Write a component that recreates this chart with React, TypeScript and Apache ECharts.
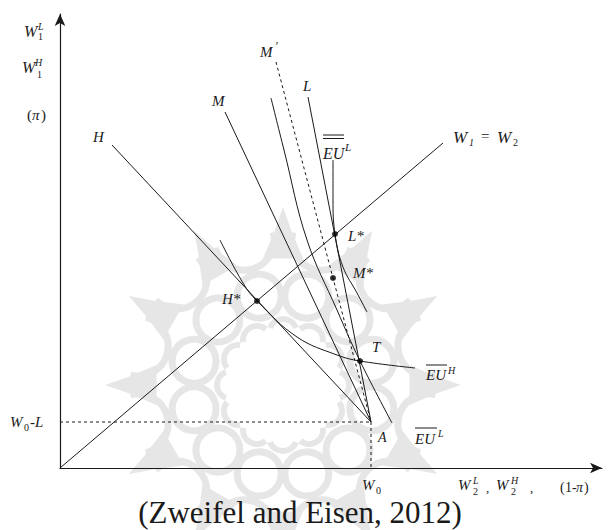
import React, { useEffect, useRef } from "react";
import * as echarts from "echarts";

// Wealth-space coordinates (x: W2, y: W1), in the diagram's own units
const endowmentA = [311, 46]; // (W0, W0-L)
const diagonalLine = [[0, 0], [383, 325]]; // W1 = W2
const hLine = [[52, 323], [311, 46]];
const mLine = [[165, 356], [311, 46]];
const mPrimeLine = [[216, 406], [311, 46]];
const lLine = [[248, 371], [311, 46]];
const euLDoubleCurve = [[273, 308], [273, 268], [275, 234], [283, 201], [297, 175], [307, 156]];
const euLCurve = [[211, 370], [224, 318], [247, 228], [277, 158], [300, 107], [332, 45]];
const euHCurve = [[160, 228], [183, 185], [197, 167], [237, 131], [277, 113], [300, 107], [355, 100]];
const keyPoints = [[197, 167], [275, 234], [273, 190], [300, 107]]; // H*, L*, M*, T
const dashedH = [[0, endowmentA[1]], endowmentA];
const dashedV = [endowmentA, [endowmentA[0], 0]];

const INK = "#1a1a1a";
const SERIF = '"Liberation Serif", "DejaVu Serif", serif';

function txt(text: string, x: number, y: number, size = 15, italic = true, align = "left") {
  return {
    type: "text",
    x,
    y,
    z: 100,
    style: {
      text,
      fill: INK,
      fontSize: size,
      fontFamily: SERIF,
      fontStyle: italic ? "italic" : "normal",
      align,
      verticalAlign: "middle",
    },
  };
}
function hline(x1: number, x2: number, y: number) {
  return { type: "line", z: 100, shape: { x1, y1: y, x2, y2: y }, style: { stroke: INK, lineWidth: 1 } };
}

function watermark() {
  const cx = 283, cy = 385;
  const els: any[] = [];
  const col = "#e6e6e6";
  for (let k = 0; k < 12; k++) {
    const a = (k * 30 * Math.PI) / 180;
    const p = (r: number, da: number) => [cx + r * Math.cos(a + (da * Math.PI) / 180), cy + r * Math.sin(a + (da * Math.PI) / 180)];
    els.push({ type: "polygon", z: 0, shape: { points: [p(128, -9), p(155, -3), p(178, 0), p(155, 3), p(128, 9)] }, style: { fill: col } });
    const q = p(150, 15);
    els.push({ type: "arc", z: 0, shape: { cx: q[0], cy: q[1], r: 30, startAngle: a + Math.PI * 0.5 + 0.26, endAngle: a + Math.PI * 1.5 + 0.26 }, style: { fill: "none", stroke: col, lineWidth: 7 } });
    const c = p(92, 15);
    els.push({ type: "circle", z: 0, shape: { cx: c[0], cy: c[1], r: 22 }, style: { fill: "none", stroke: col, lineWidth: 7 } });
    const d = p(52, 0);
    els.push({ type: "arc", z: 0, shape: { cx: d[0], cy: d[1], r: 14, startAngle: a - 1.2, endAngle: a + 1.2 }, style: { fill: "none", stroke: col, lineWidth: 6 } });
  }
  return els;
}

export default function App() {
  const ref = useRef<HTMLDivElement>(null);
  useEffect(() => {
    const chart = echarts.init(ref.current!, null, { renderer: "svg" });
    const ls = { color: INK, width: 1 };
    const line = (data: number[][], extra: any = {}) => ({
      type: "line",
      data,
      symbol: "none",
      silent: true,
      lineStyle: { ...ls, ...(extra.lineStyle || {}) },
      smooth: extra.smooth || false,
      z: 3,
    });
    chart.setOption({
      animation: false,
      backgroundColor: "#ffffff",
      grid: { left: 60, top: 14, width: 542, height: 454 },
      xAxis: {
        type: "value",
        min: 0,
        max: 542,
        axisLine: { show: true, lineStyle: { color: INK, width: 1.2 }, symbol: ["none", "arrow"], symbolSize: [8, 12] },
        axisTick: { show: false },
        axisLabel: { show: false },
        splitLine: { show: false },
      },
      yAxis: {
        type: "value",
        min: 0,
        max: 454,
        axisLine: { show: true, lineStyle: { color: INK, width: 1.2 }, symbol: ["none", "arrow"], symbolSize: [8, 12] },
        axisTick: { show: false },
        axisLabel: { show: false },
        splitLine: { show: false },
      },
      series: [
        line(diagonalLine),
        line(hLine),
        line(mLine),
        line(lLine),
        line(mPrimeLine, { lineStyle: { type: [3, 3] } }),
        line(euLDoubleCurve, { smooth: 0.4 }),
        line(euLCurve, { smooth: 0.4 }),
        line(euHCurve, { smooth: 0.4 }),
        line(dashedH, { lineStyle: { type: [3, 3] } }),
        line(dashedV, { lineStyle: { type: [3, 3] } }),
        { type: "scatter", data: keyPoints, symbolSize: 6, itemStyle: { color: "#000" }, z: 4, silent: true },
      ],
      graphic: [
        ...watermark(),
        // y-axis label
        txt("W", 24, 31, 16), txt("L", 38, 26, 10), txt("1", 38, 36, 10, false),
        txt("W", 22, 67, 16), txt("H", 35, 62, 10), txt("1", 37, 74, 10, false),
        txt("(", 27, 115, 15, false), txt("π", 32, 115, 15), txt(")", 41, 115, 15, false),
        // line labels
        txt("H", 93, 137, 15),
        txt("M", 212, 101, 15),
        txt("M", 260, 52, 15), txt("'", 275, 46, 12),
        txt("L", 303, 86, 15),
        txt("EU", 323, 153, 16), hline(323, 344, 135), hline(323, 344, 138.5), txt("L", 345, 147, 11),
        txt("W", 453, 137, 17), txt("1", 469, 142, 10), txt("=", 481, 136, 15, false), txt("W", 497, 137, 17), txt("2", 513, 142, 10, false),
        txt("L*", 348, 236, 15),
        txt("M*", 353, 273, 15),
        txt("H*", 222, 299, 15),
        txt("T", 372, 347, 15),
        txt("EU", 426, 375, 15), hline(426, 447, 365), txt("H", 448, 370, 10),
        txt("EU", 415, 439, 15), hline(415, 437, 428), txt("L", 438, 433, 10),
        txt("A", 378, 437, 14),
        // W0 - L
        txt("W", 10, 422, 15), txt("0", 24, 427, 10, false), txt("-L", 30, 422, 15),
        // W0
        txt("W", 362, 485, 15), txt("0", 376, 490, 10, false),
        // x-axis label
        txt("W", 458, 485, 15), txt("L", 473, 480, 10), txt("2", 473, 491, 10, false), txt(",", 486, 487, 13, false),
        txt("W", 496, 485, 15), txt("H", 511, 480, 10), txt("2", 511, 491, 10, false), txt(",", 530, 487, 13, false),
        txt("(", 560, 487, 14, false), txt("1-", 565, 487, 14, false), txt("π", 576, 487, 14), txt(")", 584, 487, 14, false),
        // caption
        txt("(Zweifel and Eisen, 2012)", 300, 512, 31, false, "center"),
      ],
    });
    return () => chart.dispose();
  }, []);
  return <div ref={ref} style={{ position: "absolute", left: 0, top: 0, width: 608, height: 530 }} />;
}
